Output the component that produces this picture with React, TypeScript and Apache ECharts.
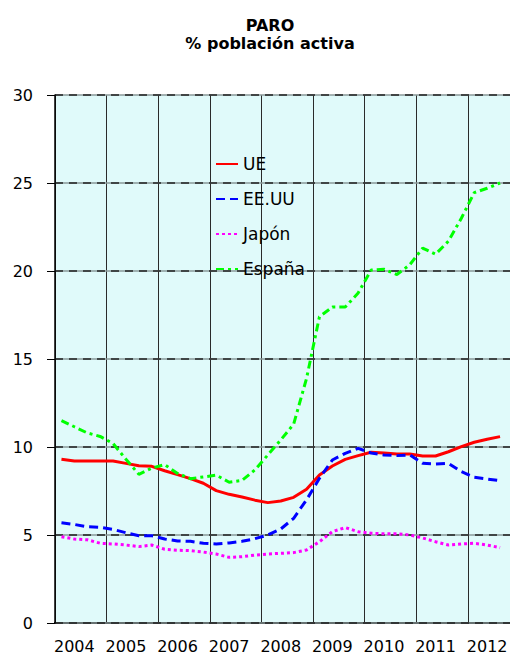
import React, { useEffect, useRef } from "react";
import * as echarts from "echarts";

const years = ["2004", "2005", "2006", "2007", "2008", "2009", "2010", "2011", "2012"];
const quarters = ["T1", "T2", "T3", "T4"];
const categories: string[] = [];
years.forEach((y) => quarters.forEach((q) => categories.push(y + " " + q)));

const ue = [9.3, 9.2, 9.2, 9.2, 9.2, 9.07, 8.93, 8.9, 8.65, 8.43, 8.2, 7.94, 7.52, 7.31, 7.16, 6.98, 6.84, 6.93, 7.14, 7.6, 8.41, 8.92, 9.3, 9.51, 9.7, 9.66, 9.6, 9.6, 9.49, 9.49, 9.73, 10.02, 10.27, 10.44, 10.59];
const eeuu = [5.7, 5.6, 5.47, 5.44, 5.32, 5.13, 4.96, 4.96, 4.77, 4.66, 4.64, 4.53, 4.49, 4.55, 4.64, 4.79, 5.0, 5.34, 5.95, 7.0, 8.22, 9.26, 9.64, 9.92, 9.66, 9.55, 9.51, 9.55, 9.07, 9.03, 9.07, 8.6, 8.28, 8.18, 8.09];
const japon = [4.9, 4.77, 4.73, 4.53, 4.49, 4.43, 4.34, 4.43, 4.19, 4.13, 4.11, 4.03, 3.92, 3.73, 3.77, 3.86, 3.92, 3.96, 4.0, 4.15, 4.62, 5.19, 5.42, 5.19, 5.1, 5.07, 5.07, 5.0, 4.83, 4.62, 4.43, 4.49, 4.53, 4.43, 4.28];
const espana = [11.5, 11.15, 10.8, 10.6, 10.2, 9.3, 8.45, 8.8, 9.0, 8.5, 8.2, 8.3, 8.4, 8.0, 8.1, 8.7, 9.55, 10.4, 11.3, 13.9, 17.4, 17.95, 17.95, 18.75, 20.05, 20.1, 19.8, 20.35, 21.3, 20.95, 21.7, 23.0, 24.45, 24.7, 25.0];

const FONT = "DejaVu Sans";

export default function App() {
  const ref = useRef<HTMLDivElement>(null);
  useEffect(() => {
    if (!ref.current) return;
    const chart = echarts.init(ref.current, null, { renderer: "svg" });
    const line = (name: string, data: number[], color: string, type: any, width: number) => ({
      name,
      type: "line",
      data,
      symbol: "none",
      smooth: false,
      xAxisIndex: 0,
      yAxisIndex: 0,
      lineStyle: { color, width, type, cap: "butt" },
      itemStyle: { color },
      z: 5,
    });
    chart.setOption({
      animation: false,
      backgroundColor: "#ffffff",
      title: {
        text: "PARO\n% población activa",
        left: 265,
        top: 11,
        textAlign: "center",
        textStyle: { fontFamily: FONT, fontSize: 16, fontWeight: "bold", color: "#000", lineHeight: 18.5 },
      },
      legend: {
        orient: "vertical",
        left: 210,
        top: 149,
        itemWidth: 22,
        itemHeight: 14,
        itemGap: 15,
        itemStyle: { opacity: 0, color: "rgba(0,0,0,0)", borderWidth: 0 },
        textStyle: { fontFamily: FONT, fontSize: 17, color: "#000", lineHeight: 20, padding: [0, 0, 0, 0] },
        data: ["UE", "EE.UU", "Japón", "España"],
      },
      grid: {
        left: 55,
        top: 95,
        width: 464.4,
        height: 528,
        show: true,
        backgroundColor: "#E0FAFA",
        borderWidth: 0,
      },
      xAxis: [
        {
          type: "category",
          data: categories,
          boundaryGap: true,
          axisLine: { show: true, lineStyle: { color: "#000", width: 2 } },
          axisTick: { show: false },
          axisLabel: {
            interval: (i: number) => i % 4 === 1,
            formatter: (v: string) => v.slice(0, 4),
            fontFamily: FONT,
            fontSize: 16,
            color: "#000",
            margin: 15,
          },
          splitLine: {
            show: true,
            interval: (i: number) => i % 4 === 0,
            lineStyle: { color: "#2a2a2a", width: 1 },
          },
        },
        {
          type: "category",
          data: categories,
          position: "top",
          axisLine: { show: true, lineStyle: { color: "#000", width: 1.5 } },
          axisTick: { show: false },
          axisLabel: { show: false },
          splitLine: { show: false },
        },
      ],
      yAxis: [
        {
          type: "value",
          min: 0,
          max: 30,
          interval: 5,
          axisLine: { show: true, lineStyle: { color: "#000", width: 1.5 } },
          axisTick: { show: true, inside: false, length: 8, lineStyle: { color: "#000", width: 1 } },
          axisLabel: { fontFamily: FONT, fontSize: 16, color: "#000", margin: 22 },
          splitLine: { show: true, lineStyle: { color: "#222", width: 1.5, type: [8, 6] } },
          z: 3,
        },
        {
          type: "value",
          min: 0,
          max: 30,
          interval: 5,
          axisLine: { show: false },
          axisTick: { show: false },
          axisLabel: { show: false },
          splitLine: { show: true, lineStyle: { color: "#8a9898", width: 1.5 } },
          z: 1,
        },
      ],
      series: [
        line("UE", ue, "#FF0000", "solid", 3),
        line("EE.UU", eeuu, "#0000FF", [9, 5], 3),
        line("Japón", japon, "#FF00FF", [3, 3], 3),
        line("España", espana, "#00FF00", [8, 4, 3, 4], 3),
      ],
    });
    return () => chart.dispose();
  }, []);
  return (
    <div style={{ position: "absolute", left: 0, top: 0, width: 510, height: 657, overflow: "hidden" }}>
      <div ref={ref} style={{ width: 540, height: 657 }} />
    </div>
  );
}
